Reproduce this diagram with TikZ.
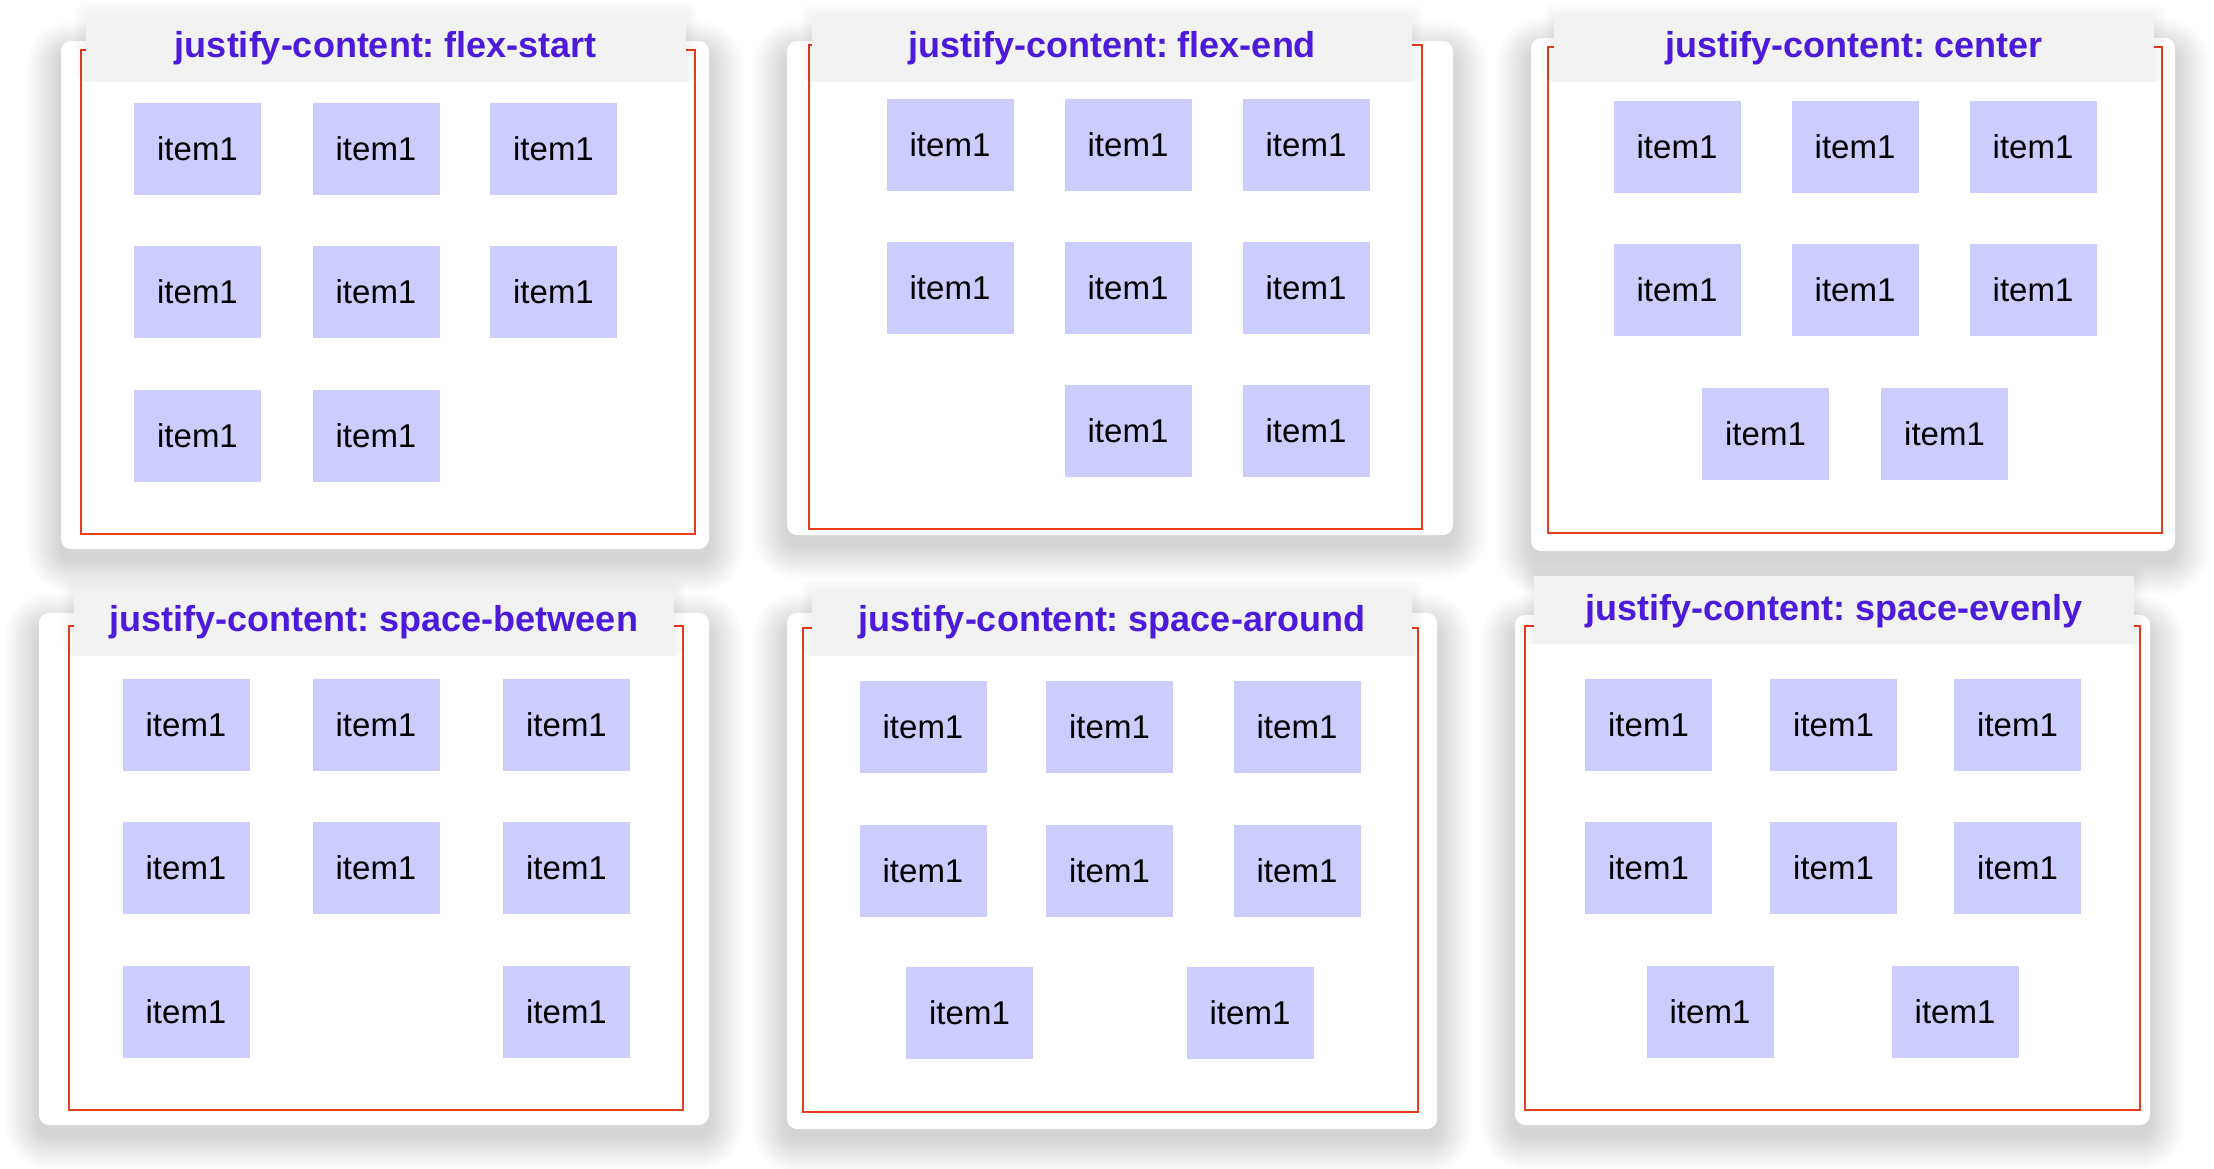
\documentclass[tikz,border=0pt]{standalone}
\usepackage{fontspec}
\setmainfont{Liberation Sans}
\frenchspacing
\definecolor{titlecol}{RGB}{76,26,218}
\definecolor{itemfill}{RGB}{204,204,255}
\definecolor{bandgray}{RGB}{242,242,242}
\definecolor{redline}{RGB}{228,62,30}
\newcommand\itemfont{\fontsize{33}{38}\selectfont}
\newcommand\titlefont{\fontsize{36}{42}\selectfont\bfseries}
\newcommand\cardshadow[4]{%
  \foreach \k in {1,...,14}{%
    \pgfmathsetmacro\dd{\k*2.4}%
    \pgfmathsetmacro\rr{10+\dd}%
    \fill[black, opacity=0.010, rounded corners=\rr pt] (#1-\dd,#2-\dd+14) rectangle (#3+\dd,#4+\dd+10);
  }%
}
\newcommand\bandshadow[4]{%
  \foreach \k in {1,...,6}{%
    \pgfmathsetmacro\dd{\k*2}%
    \fill[black, opacity=0.007, rounded corners=\dd pt] (#1-\dd,#2-\dd) rectangle (#3+\dd,#4);
  }%
}
\tikzset{
  card/.style={fill=white, rounded corners=10pt},
  redbox/.style={draw=redline, line width=2.6pt},
  band/.style={fill=bandgray},
  item/.style={fill=itemfill, minimum width=127pt, minimum height=92pt, inner sep=0pt, font=\itemfont, text=black},
  ttl/.style={anchor=base, text=titlecol, font=\titlefont, inner sep=0pt},
}
\begin{document}
\begin{tikzpicture}[x=1pt, y=-1pt]
\useasboundingbox[fill=white] (0,0) rectangle (2214,1168);

% ---------- Panel 1: flex-start ----------
\cardshadow{61}{41}{709}{549}
\fill[card] (61,41) rectangle (709,549);
\draw[redbox] (81,50) rectangle (695,534);
\bandshadow{86}{14}{686}{82}
\fill[band] (86,14) rectangle (686,82);
\node[ttl] (t1) at (386,57) {justify-content: flex-start};
\node[item] (a11) at (197.5,149) {item1};
\node[item] (a12) at (376,149) {item1};
\node[item] (a13) at (553.5,149) {item1};
\node[item] (a21) at (197.5,292) {item1};
\node[item] (a22) at (376,292) {item1};
\node[item] (a23) at (553.5,292) {item1};
\node[item] (a31) at (197.5,435.5) {item1};
\node[item] (a32) at (376,435.5) {item1};

% ---------- Panel 2: flex-end ----------
\cardshadow{787}{41}{1453}{535}
\fill[card] (787,41) rectangle (1453,535);
\draw[redbox] (809,45) rectangle (1422,529);
\bandshadow{812}{15}{1412}{82}
\fill[band] (812,15) rectangle (1412,82);
\node[ttl] (t2) at (1112,57) {justify-content: flex-end};
\node[item] (b11) at (950,144.5) {item1};
\node[item] (b12) at (1128,144.5) {item1};
\node[item] (b13) at (1306,144.5) {item1};
\node[item] (b21) at (950,287.5) {item1};
\node[item] (b22) at (1128,287.5) {item1};
\node[item] (b23) at (1306,287.5) {item1};
\node[item] (b32) at (1128,430.5) {item1};
\node[item] (b33) at (1306,430.5) {item1};

% ---------- Panel 3: center ----------
\cardshadow{1531}{38}{2175}{551}
\fill[card] (1531,38) rectangle (2175,551);
\draw[redbox] (1548,47) rectangle (2162,533);
\bandshadow{1554}{15}{2154}{82}
\fill[band] (1554,15) rectangle (2154,82);
\node[ttl] (t3) at (1854,57) {justify-content: center};
\node[item] (c11) at (1677,147) {item1};
\node[item] (c12) at (1855,147) {item1};
\node[item] (c13) at (2033,147) {item1};
\node[item] (c21) at (1677,290) {item1};
\node[item] (c22) at (1855,290) {item1};
\node[item] (c23) at (2033,290) {item1};
\node[item] (c31) at (1765.5,433.5) {item1};
\node[item] (c32) at (1944.5,433.5) {item1};

% ---------- Panel 4: space-between ----------
\cardshadow{39}{613}{709}{1125}
\fill[card] (39,613) rectangle (709,1125);
\draw[redbox] (69,626) rectangle (683,1110);
\bandshadow{74}{591}{674}{656}
\fill[band] (74,591) rectangle (674,656);
\node[ttl] (t4) at (374,631) {justify-content: space-between};
\node[item] (d11) at (186,725) {item1};
\node[item] (d12) at (376,725) {item1};
\node[item] (d13) at (566.5,725) {item1};
\node[item] (d21) at (186,868) {item1};
\node[item] (d22) at (376,868) {item1};
\node[item] (d23) at (566.5,868) {item1};
\node[item] (d31) at (186,1011.5) {item1};
\node[item] (d33) at (566.5,1011.5) {item1};

% ---------- Panel 5: space-around ----------
\cardshadow{787}{613}{1437}{1129}
\fill[card] (787,613) rectangle (1437,1129);
\draw[redbox] (803,628) rectangle (1418,1112);
\bandshadow{812}{591}{1412}{656}
\fill[band] (812,591) rectangle (1412,656);
\node[ttl] (t5) at (1112,631) {justify-content: space-around};
\node[item] (e11) at (923,727) {item1};
\node[item] (e12) at (1109.5,727) {item1};
\node[item] (e13) at (1297,727) {item1};
\node[item] (e21) at (923,870.5) {item1};
\node[item] (e22) at (1109.5,870.5) {item1};
\node[item] (e23) at (1297,870.5) {item1};
\node[item] (e31) at (969.5,1013) {item1};
\node[item] (e32) at (1250,1013) {item1};

% ---------- Panel 6: space-evenly ----------
\cardshadow{1515}{615}{2150}{1125}
\fill[card] (1515,615) rectangle (2150,1125);
\draw[redbox] (1525,626) rectangle (2140,1110);
\bandshadow{1534}{576}{2134}{644}
\fill[band] (1534,576) rectangle (2134,644);
\node[ttl] (t6) at (1834,620) {justify-content: space-evenly};
\node[item] (f11) at (1648.5,725) {item1};
\node[item] (f12) at (1833.5,725) {item1};
\node[item] (f13) at (2017.5,725) {item1};
\node[item] (f21) at (1648.5,868) {item1};
\node[item] (f22) at (1833.5,868) {item1};
\node[item] (f23) at (2017.5,868) {item1};
\node[item] (f31) at (1710,1011.5) {item1};
\node[item] (f32) at (1955,1011.5) {item1};
\end{tikzpicture}
\end{document}
